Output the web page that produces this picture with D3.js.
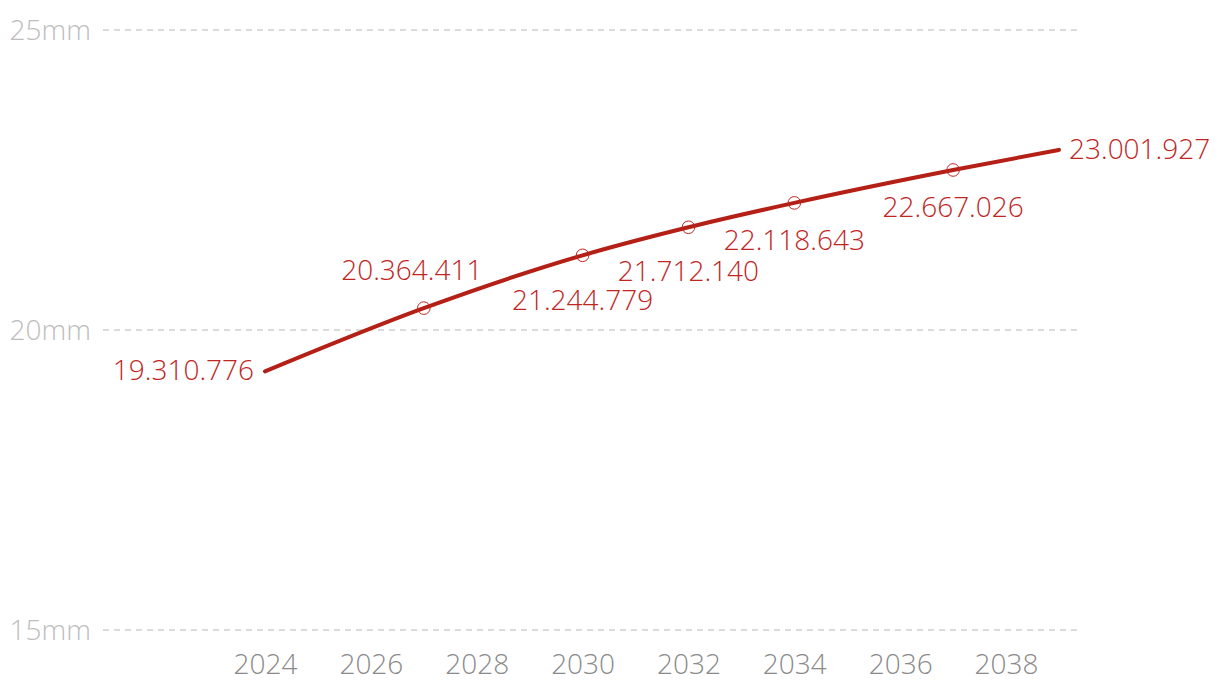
<!DOCTYPE html>
<html><head><meta charset="utf-8">
<script src="https://cdn.jsdelivr.net/npm/d3@7"></script>
<style>
html,body{margin:0;padding:0;background:#fff;}
svg text{font-family:"Open Sans",sans-serif;font-weight:300;}
</style></head>
<body><svg id="chart" width="1220" height="696"></svg>
<script>
const years = [2024, 2027, 2030, 2032, 2034, 2037, 2039];
const values = [19310776, 20364411, 21244779, 21712140, 22118643, 22667026, 23001927];
const labelPlacement = ["left", "above", "below", "below", "below", "below", "right"];
const xTicks = [2024, 2026, 2028, 2030, 2032, 2034, 2036, 2038];
const yTicks = [15000000, 20000000, 25000000];
const yTickLabels = ["15mm", "20mm", "25mm"];

const svg = d3.select("#chart");
const x = d3.scaleLinear().domain([2024, 2039]).range([265, 1059]);
const y = d3.scaleLinear().domain([15000000, 25000000]).range([630, 30]);
const fmt = v => d3.format(",")(v).replace(/,/g, ".");
const data = years.map((yr, i) => ({yr, v: values[i], p: labelPlacement[i], i}));
const FS = 28;

// grid + y labels
const yAxis = d3.axisLeft(y).tickValues(yTicks).tickSize(0).tickPadding(0)
  .tickFormat((d, i) => yTickLabels[i]);
const gy = svg.append("g").attr("transform", "translate(91,0)").call(yAxis);
gy.select(".domain").remove();
gy.selectAll("text").attr("font-size", FS).attr("fill", "#bdbdbd").attr("dy", "0.35em")
  .style("font-family", "'Open Sans',sans-serif").style("font-weight", 300);
svg.append("g").selectAll("line").data(yTicks).join("line")
  .attr("x1", 103).attr("x2", 1080)
  .attr("y1", d => y(d)).attr("y2", d => y(d))
  .attr("stroke", "#cfcfcf").attr("stroke-width", 1.3).attr("stroke-dasharray", "6,5");

// x axis labels
const xAxis = d3.axisBottom(x).tickValues(xTicks).tickSize(0).tickPadding(0).tickFormat(d3.format("d"));
const gx = svg.append("g").attr("transform", "translate(0,674)").call(xAxis);
gx.select(".domain").remove();
gx.selectAll("text").attr("font-size", FS).attr("fill", "#8a8a8a").attr("dy", 0)
  .style("font-family", "'Open Sans',sans-serif").style("font-weight", 300);

// line
const line = d3.line().x(d => x(d.yr)).y(d => y(d.v)).curve(d3.curveMonotoneX);
svg.append("path").datum(data).attr("d", line)
  .attr("fill", "none").attr("stroke", "#b41f16").attr("stroke-width", 4)
  .attr("stroke-linecap", "round").attr("stroke-linejoin", "round");

// markers
svg.append("g").selectAll("circle").data(data.slice(1, -1)).join("circle")
  .attr("cx", d => x(d.yr)).attr("cy", d => y(d.v)).attr("r", 6.3)
  .attr("fill", "none").attr("stroke", "#be2820").attr("stroke-width", 1);

// labels (layout offsets in px, kept separate from data)
const belowDy = [0, 0, 55, 54, 47, 47, 0];
svg.append("g").selectAll("text").data(data).join("text")
  .attr("font-size", FS).attr("fill", "#bf261f")
  .attr("x", d => d.p === "left" ? x(d.yr) - 11 : d.p === "right" ? x(d.yr) + 10 : d.p === "above" ? x(d.yr) - 12 : x(d.yr))
  .attr("y", d => {
    const py = y(d.v);
    if (d.p === "above") return py - 28;
    if (d.p === "below") return py + belowDy[d.i];
    return py + 9;
  })
  .attr("text-anchor", d => d.p === "left" ? "end" : d.p === "right" ? "start" : "middle")
  .text(d => fmt(d.v));
</script></body></html>
